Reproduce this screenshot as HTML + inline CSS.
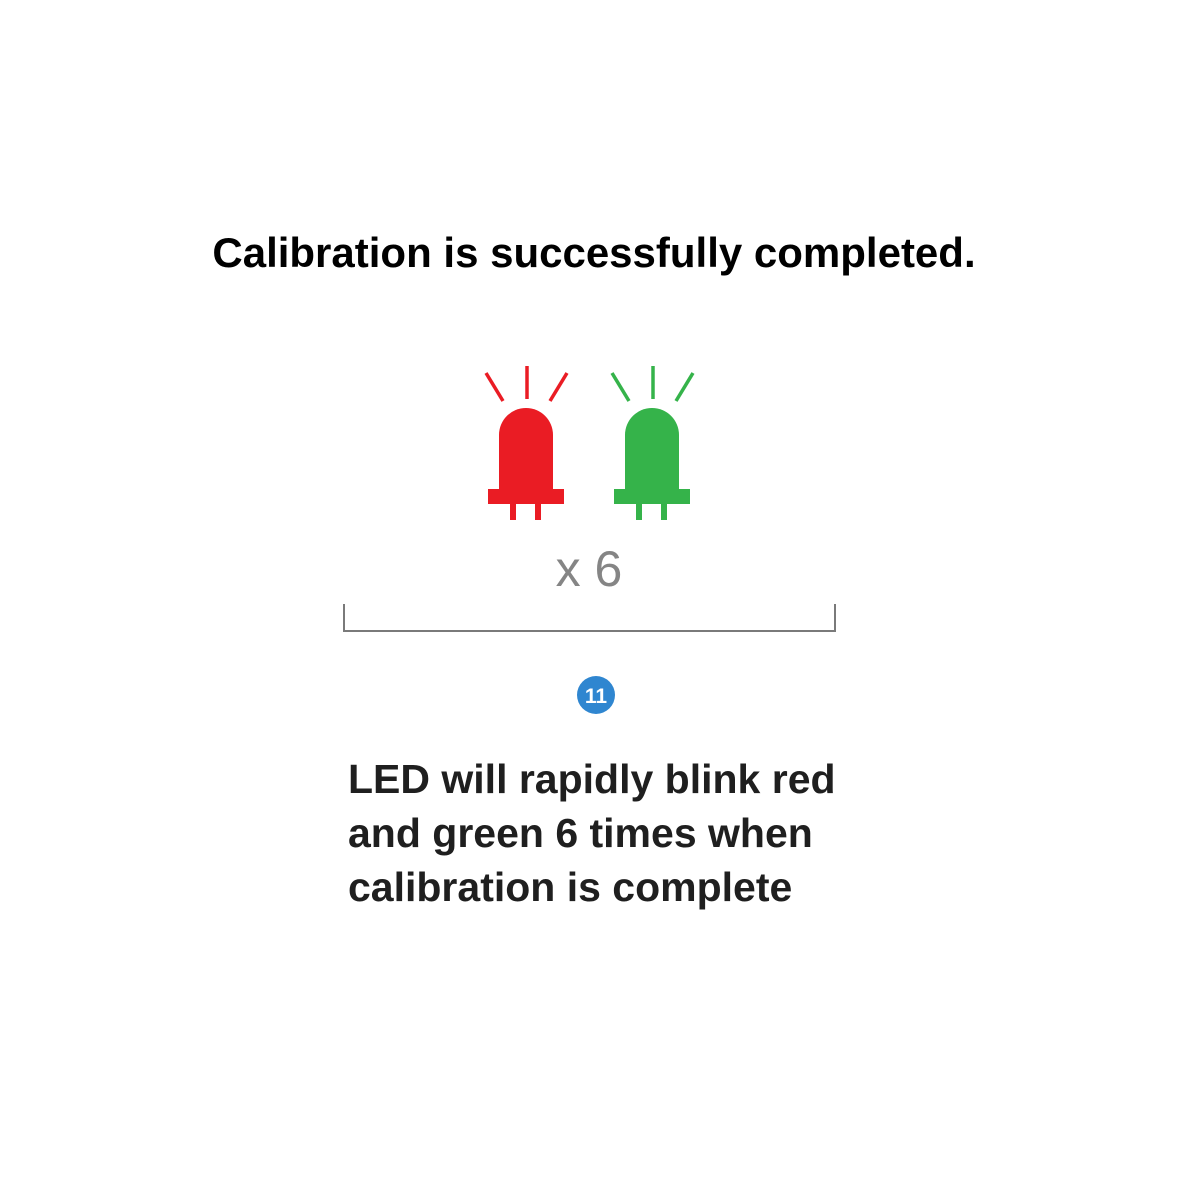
<!DOCTYPE html>
<html><head><meta charset="utf-8"><style>
body{margin:0;width:1200px;height:1200px;background:#fff;position:relative;overflow:hidden;font-family:"Liberation Sans",sans-serif}
.t{position:absolute;white-space:nowrap}
</style></head><body>
<div class="t" style="left:0;width:1188px;text-align:center;top:229px;font-size:42px;font-weight:bold;color:#000">Calibration is successfully completed.</div>
<svg width="1200" height="1200" style="position:absolute;left:0;top:0">
<g fill="#ea1c24" stroke="#ea1c24">
<line x1="486" y1="373" x2="503" y2="401" stroke-width="3.5"/>
<line x1="527" y1="366" x2="527" y2="399" stroke-width="3.5"/>
<line x1="567" y1="373" x2="550" y2="401" stroke-width="3.5"/>
<path d="M499 490 V435 A27 27 0 0 1 553 435 V490 Z" stroke="none"/>
<rect x="488" y="489" width="76" height="15" stroke="none"/>
<rect x="510" y="503" width="6" height="17" stroke="none"/>
<rect x="535" y="503" width="6" height="17" stroke="none"/>
</g>
<g fill="#35b34a" stroke="#35b34a" transform="translate(126,0)">
<line x1="486" y1="373" x2="503" y2="401" stroke-width="3.5"/>
<line x1="527" y1="366" x2="527" y2="399" stroke-width="3.5"/>
<line x1="567" y1="373" x2="550" y2="401" stroke-width="3.5"/>
<path d="M499 490 V435 A27 27 0 0 1 553 435 V490 Z" stroke="none"/>
<rect x="488" y="489" width="76" height="15" stroke="none"/>
<rect x="510" y="503" width="6" height="17" stroke="none"/>
<rect x="535" y="503" width="6" height="17" stroke="none"/>
</g>
<text x="589" y="586" text-anchor="middle" font-family="Liberation Sans, sans-serif" font-size="50" fill="#858585">x 6</text>
<path d="M344 604 V631 H835 V604" fill="none" stroke="#7a7a7a" stroke-width="2"/>
<circle cx="596" cy="695" r="19" fill="#2f86d0"/>
<text x="596" y="703" text-anchor="middle" font-family="Liberation Sans, sans-serif" font-weight="bold" font-size="21" fill="#fff">11</text>
</svg>
<div class="t" style="left:348px;top:752px;font-size:41px;font-weight:bold;color:#1f1f1f;line-height:54px">LED will rapidly blink red<br>and green 6 times when<br>calibration is complete</div>
</body></html>
